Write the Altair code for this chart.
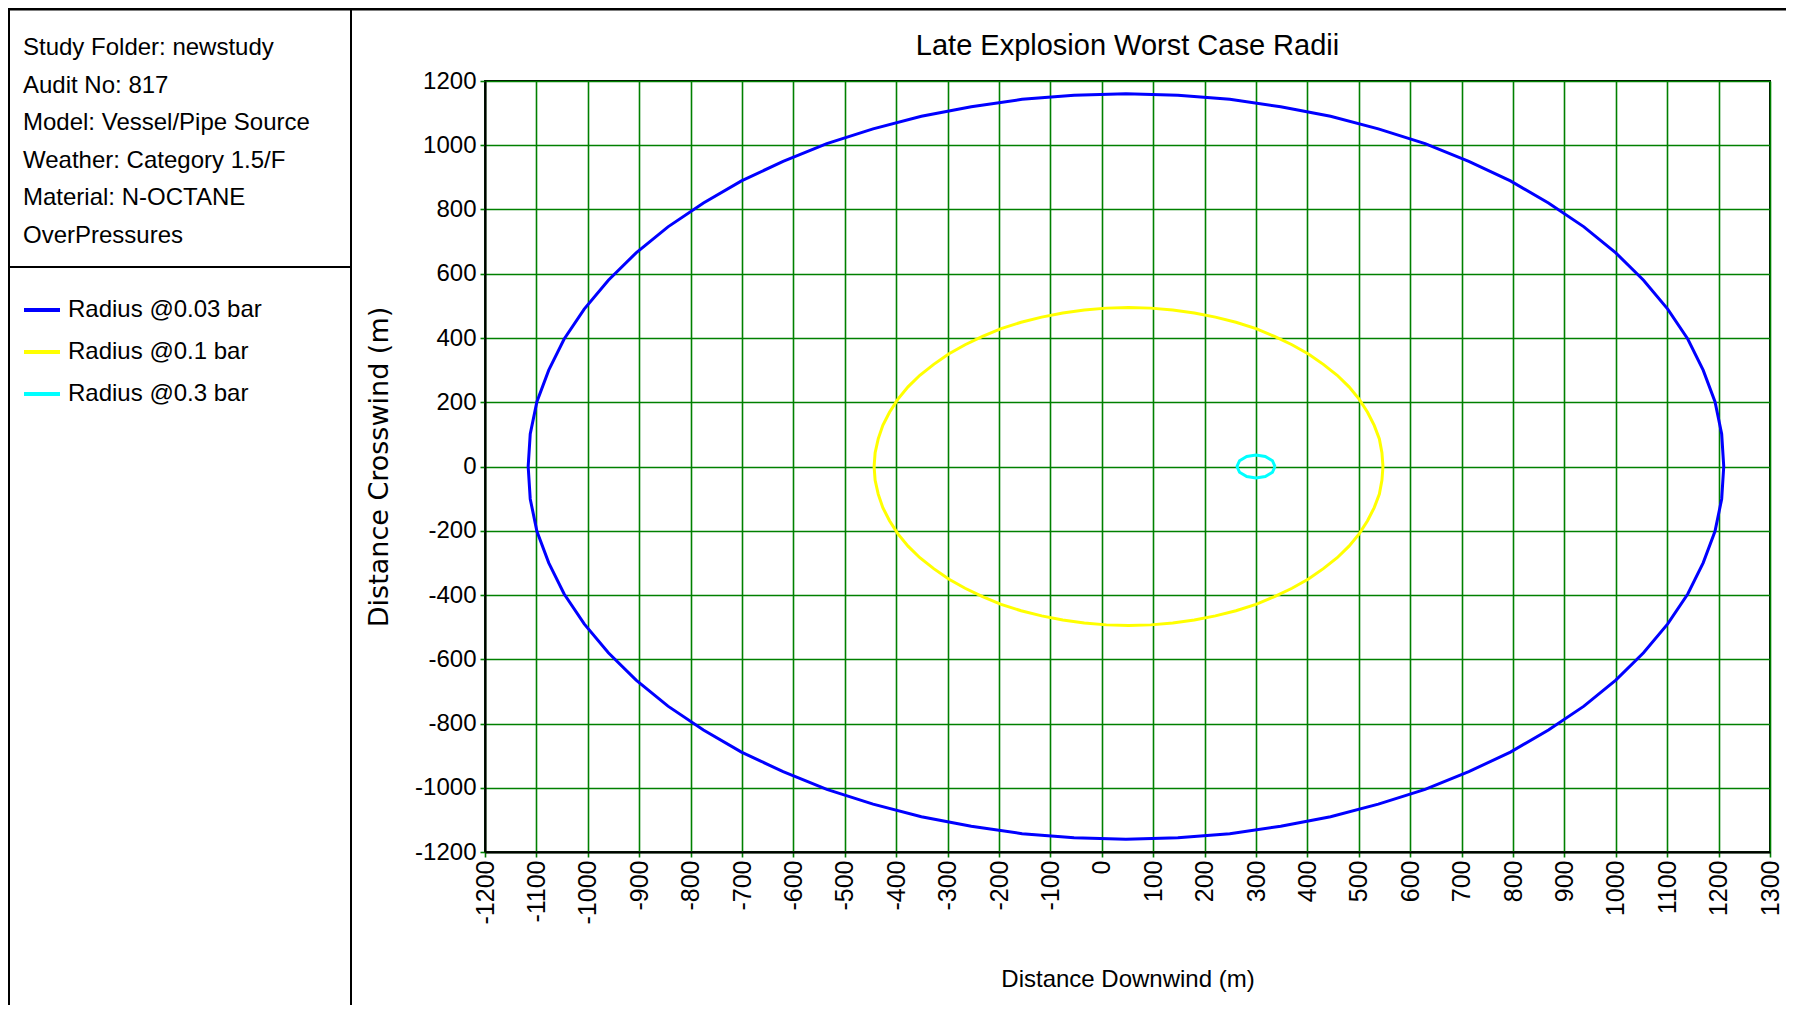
import altair as alt
import pandas as pd

# ---- data ----
series_names = ["Radius @0.03 bar", "Radius @0.1 bar", "Radius @0.3 bar"]
series_colors = ["#0000ff", "#ffff00", "#00ffff"]

blue_x = [1210, 1206, 1193, 1170, 1140, 1101, 1054, 1000, 938, 869, 795, 714, 629, 538, 445, 348, 249, 148, 47, -54,
          -155, -254, -351, -445, -535, -620, -701, -775, -844, -906, -960, -1007, -1046, -1076, -1099, -1112, -1116,
          -1112, -1099, -1076, -1046, -1007, -960, -906, -844, -775, -701, -620, -535, -445, -351, -254, -155, -54,
          47, 148, 249, 348, 445, 538, 629, 714, 795, 869, 938, 1000, 1054, 1101, 1140, 1170, 1193, 1206, 1210]
blue_y = [0, 101, 202, 300, 397, 490, 580, 665, 746, 820, 889, 950, 1005, 1051, 1090, 1120, 1143, 1156, 1160, 1156,
          1143, 1120, 1090, 1051, 1005, 950, 889, 820, 746, 665, 580, 490, 397, 300, 202, 101, 0,
          -101, -202, -300, -397, -490, -580, -665, -746, -820, -889, -950, -1005, -1051, -1090, -1120, -1143, -1156,
          -1160, -1156, -1143, -1120, -1090, -1051, -1005, -950, -889, -820, -746, -665, -580, -490, -397, -300, -202,
          -101, 0]

yellow_x = [547, 545, 540, 530, 517, 501, 481, 458, 431, 402, 370, 336, 300, 261, 221, 180, 138, 95, 52, 9,
            -34, -76, -117, -157, -196, -232, -266, -298, -327, -354, -377, -397, -413, -426, -435, -441, -443,
            -441, -435, -426, -413, -397, -377, -354, -327, -298, -266, -232, -196, -157, -117, -76, -34, 9,
            52, 95, 138, 180, 221, 261, 300, 336, 370, 402, 431, 458, 481, 501, 517, 530, 540, 545, 547]
yellow_y = [0, 43, 86, 128, 169, 209, 248, 284, 318, 350, 379, 405, 429, 449, 465, 478, 487, 493, 495, 493,
            487, 478, 465, 449, 429, 405, 379, 350, 318, 284, 248, 209, 169, 128, 86, 43, 0,
            -43, -86, -128, -169, -209, -248, -284, -318, -350, -379, -405, -429, -449, -465, -478, -487, -493,
            -495, -493, -487, -478, -465, -449, -429, -405, -379, -350, -318, -284, -248, -209, -169, -128, -86,
            -43, 0]

cyan_x = [337, 332, 318, 300, 282, 268, 263, 268, 282, 300, 318, 332, 337]
cyan_y = [0, 18, 31, 36, 31, 18, 0, -18, -31, -36, -31, -18, 0]

x_ticks = [-1200, -1100, -1000, -900, -800, -700, -600, -500, -400, -300, -200, -100, 0,
           100, 200, 300, 400, 500, 600, 700, 800, 900, 1000, 1100, 1200, 1300]
y_ticks = [-1200, -1000, -800, -600, -400, -200, 0, 200, 400, 600, 800, 1000, 1200]

info_lines = ["Study Folder: newstudy", "Audit No: 817", "Model: Vessel/Pipe Source",
              "Weather: Category 1.5/F", "Material: N-OCTANE", "OverPressures"]

chart_title = "Late Explosion Worst Case Radii"
x_title = "Distance Downwind (m)"
y_title = "Distance Crosswind (m)"

# ---- build table ----
rows = []
for name, xs, ys in zip(series_names, [blue_x, yellow_x, cyan_x], [blue_y, yellow_y, cyan_y]):
    for i, (a, b) in enumerate(zip(xs, ys)):
        rows.append({"x": a, "y": b, "series": name, "order": i})
df = pd.DataFrame(rows)

FONT = "Liberation Sans, Arial, sans-serif"
W, H = 1285, 771

lines = alt.Chart(df).mark_line(strokeWidth=3).encode(
    x=alt.X("x:Q", scale=alt.Scale(domain=[-1200, 1300], nice=False, zero=False),
            axis=alt.Axis(values=x_ticks, labelAngle=270, labelPadding=3, labelOverlap=False,
                          labelFlush=False, labelExpr="'' + datum.value", labelFontSize=25,
                          title=x_title, titlePadding=44)),
    y=alt.Y("y:Q", scale=alt.Scale(domain=[-1200, 1200], nice=False, zero=False),
            axis=alt.Axis(values=y_ticks, labelPadding=4, labelOverlap=False, labelFlush=False,
                          labelExpr="'' + datum.value", labelFontSize=24,
                          title=y_title, titlePadding=21, titleFont="DejaVu Sans", titleFontSize=27)),
    color=alt.Color("series:N", scale=alt.Scale(domain=series_names, range=series_colors),
                    legend=alt.Legend(title=None, orient="none", legendX=-463, legendY=209,
                                      symbolType="stroke", symbolStrokeWidth=4, symbolSize=1296,
                                      labelFont=FONT, labelFontSize=24, labelColor="black",
                                      labelOffset=6, rowPadding=10, labelLimit=400, padding=0)),
    order=alt.Order("order:Q"),
)

one = alt.Data(values=[{}])
info = alt.Chart(one).mark_text(align="left", baseline="alphabetic", font=FONT, fontSize=24,
                                lineHeight=37.5, color="black").encode(
    x=alt.value(-462), y=alt.value(-26), text=alt.value(info_lines))

title_mark = alt.Chart(one).mark_text(align="center", baseline="alphabetic", font=FONT, fontSize=29,
                                      color="black").encode(
    x=alt.value(W / 2), y=alt.value(-26), text=alt.value(chart_title))

rule_top = alt.Chart(one).mark_rule(color="black", strokeWidth=3).encode(
    x=alt.value(-477), x2=alt.value(W + 16), y=alt.value(-72))
rule_left = alt.Chart(one).mark_rule(color="black", strokeWidth=2).encode(
    x=alt.value(-476), y=alt.value(-72), y2=alt.value(H + 160))
rule_div = alt.Chart(one).mark_rule(color="black", strokeWidth=2).encode(
    x=alt.value(-134), y=alt.value(-72), y2=alt.value(H + 160))
rule_mid = alt.Chart(one).mark_rule(color="black", strokeWidth=2).encode(
    x=alt.value(-476), x2=alt.value(-134), y=alt.value(186))

chart = alt.layer(lines, info, title_mark, rule_top, rule_left, rule_div, rule_mid).properties(
    width=W, height=H,
    autosize=alt.AutoSizeParams(type="none"),
    padding={"left": 477, "top": 73, "right": 16, "bottom": 153},
).configure(background="white").configure_view(
    stroke="black", strokeWidth=2
).configure_axis(
    domainColor="black", domainWidth=2, gridColor="#008000", gridWidth=1.6, gridOpacity=1,
    tickColor="#008000", tickSize=5, tickWidth=1.6, labelFont=FONT,
    labelColor="black", titleFont=FONT, titleFontSize=24, titleFontWeight="normal", titleColor="black"
)

chart.save("out.html", embed_options={"renderer": "svg", "actions": False})
